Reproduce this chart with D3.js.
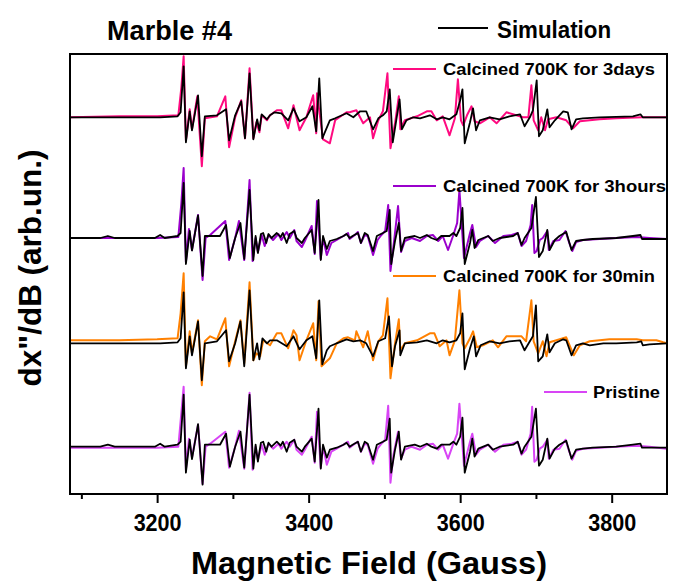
<!DOCTYPE html>
<head>
<meta charset="utf-8">
<style>
  body { margin: 0; background: #fff; }
  text { font-family: "Liberation Sans", Arial, sans-serif; font-weight: bold; fill: #000; }
</style>
<script src="https://cdn.jsdelivr.net/npm/d3@7"></script>
</head>
<body>
<script>
// field (Gauss), signal (arb. un., relative to each trace's baseline)
var sim1 = [[3085,0],[3204,0],[3227,0.01],[3231,0.05],[3235,0.51],[3238,-0.25],[3243,0.06],[3246,-0.13],[3254,0.22],[3259,-0.39],[3263,0.01],[3279,0.02],[3291,0.08],[3295,-0.23],[3303,0.02],[3311,0.16],[3316,-0.21],[3322,0.44],[3327,-0.22],[3332,-0.02],[3335,-0.13],[3338,0.03],[3345,-0.02],[3349,0.02],[3355,0.05],[3364,0.04],[3373,-0.03],[3380,0.09],[3388,-0.04],[3397,0],[3405,0.11],[3410,-0.14],[3414,0.39],[3418,-0.21],[3428,-0.03],[3435,-0.01],[3450,0.04],[3459,0],[3468,0.06],[3476,0.06],[3485,-0.12],[3492,-0.01],[3498,0.02],[3503,0.06],[3507,0.28],[3511,-0.25],[3515,-0.06],[3520,0.18],[3523,-0.12],[3529,-0.03],[3538,0],[3547,-0.01],[3560,0.02],[3569,-0.02],[3577,0],[3586,-0.02],[3595,0.03],[3600,0.17],[3603,0.28],[3606,-0.26],[3613,-0.05],[3617,0.09],[3621,-0.13],[3626,-0.03],[3639,0],[3652,-0.02],[3665,0.01],[3679,0.03],[3685,-0.09],[3692,0],[3696,0.07],[3701,0.37],[3704,-0.19],[3709,-0.13],[3715,0.08],[3718,-0.10],[3725,-0.03],[3736,0.06],[3742,0.05],[3747,-0.12],[3753,-0.02],[3762,-0.01],[3784,0],[3828,0.01],[3838,0.03],[3841,0],[3873,0]];

var days3 = [[3085,0],[3150,0.01],[3200,0.01],[3228,0.02],[3232,0.3],[3235,0.61],[3238,-0.23],[3243,0.08],[3246,-0.12],[3253,0.21],[3259,-0.49],[3263,-0.01],[3279,0.01],[3290,0.21],[3295,-0.30],[3303,0],[3311,0.17],[3316,-0.21],[3322,0.49],[3327,-0.21],[3331,-0.05],[3335,-0.15],[3338,0.02],[3345,-0.03],[3349,0.02],[3358,0.07],[3364,0.07],[3373,-0.11],[3380,0.12],[3388,-0.13],[3397,0],[3406,0.22],[3410,-0.16],[3411,0.24],[3419,-0.22],[3428,-0.26],[3435,-0.03],[3450,0.05],[3454,0.05],[3463,0.07],[3472,-0.06],[3481,0],[3485,-0.21],[3492,-0.03],[3498,0.06],[3504,0.44],[3508,-0.31],[3514,-0.06],[3519,0.21],[3521,-0.12],[3527,-0.03],[3543,0.01],[3556,0.06],[3562,0.06],[3569,-0.03],[3577,0.01],[3586,-0.18],[3593,-0.01],[3597,0.38],[3601,-0.03],[3604,-0.08],[3609,0.02],[3615,0.11],[3619,-0.04],[3626,-0.06],[3639,0],[3648,-0.06],[3661,0.05],[3674,0.02],[3683,0],[3690,0],[3694,0.32],[3697,-0.03],[3703,-0.13],[3707,0],[3712,-0.13],[3716,-0.02],[3727,0],[3740,-0.03],[3749,-0.11],[3758,-0.04],[3771,-0.03],[3784,-0.02],[3806,-0.01],[3840,0],[3873,0]];

var sim2 = [[3085,0],[3125,0],[3135,0.02],[3144,0],[3197,0],[3204,0.03],[3210,0],[3227,0.02],[3231,0.05],[3235,0.55],[3238,-0.26],[3243,0.07],[3246,-0.125],[3254,0.225],[3260,-0.38],[3263,0.02],[3283,0.02],[3291,0.13],[3296,-0.20],[3303,0],[3310,0.15],[3315,-0.21],[3322,0.48],[3327,-0.22],[3330,0.02],[3333,-0.15],[3337,0.04],[3340,0.05],[3344,-0.05],[3347,0.04],[3351,0],[3358,0.05],[3363,0.01],[3366,0.05],[3371,-0.05],[3375,0.04],[3381,0.07],[3384,0],[3391,-0.05],[3395,0],[3404,0.08],[3408,-0.15],[3413,0.38],[3416,-0.22],[3419,0.02],[3424,-0.11],[3428,-0.03],[3437,-0.01],[3446,0.02],[3450,0.04],[3454,0],[3458,0.02],[3465,0.05],[3469,-0.05],[3474,0.05],[3478,0.03],[3485,-0.13],[3490,0.02],[3498,0.05],[3503,0.07],[3507,0.28],[3509,-0.26],[3514,-0.03],[3519,0.15],[3522,-0.13],[3527,0],[3540,0.02],[3547,0],[3556,0.03],[3562,0],[3569,-0.02],[3575,0.02],[3586,0.02],[3591,0.05],[3595,0.02],[3600,0.10],[3603,0.30],[3606,-0.26],[3613,-0.05],[3616,0.08],[3619,-0.10],[3624,-0.02],[3637,0.02],[3643,-0.03],[3652,0],[3670,0.02],[3676,0.05],[3681,-0.07],[3685,0],[3694,0.10],[3700,0.41],[3704,-0.19],[3709,-0.13],[3715,0.08],[3718,-0.12],[3725,-0.02],[3731,0.02],[3740,0.06],[3747,-0.12],[3753,-0.03],[3762,-0.02],[3775,-0.01],[3806,0],[3828,0.02],[3838,0.03],[3840,-0.01],[3873,-0.01]];

var hours3 = [[3085,0],[3150,0],[3200,0],[3228,0.01],[3232,0.35],[3235,0.70],[3238,-0.24],[3242,0.09],[3246,-0.12],[3254,0.23],[3260,-0.42],[3264,0],[3270,0.03],[3290,0.17],[3295,-0.22],[3303,0],[3308,0.17],[3315,-0.22],[3322,0.58],[3326,-0.23],[3330,0],[3333,-0.14],[3338,0.03],[3342,-0.08],[3347,0.03],[3353,-0.02],[3360,0.04],[3364,-0.02],[3371,0.06],[3375,0],[3381,0.08],[3384,-0.03],[3391,-0.09],[3395,-0.03],[3404,0.12],[3408,-0.16],[3411,0.37],[3416,-0.21],[3419,0],[3424,-0.17],[3430,-0.05],[3437,-0.02],[3446,0.02],[3452,0.05],[3454,-0.01],[3461,0.03],[3465,0.06],[3469,-0.05],[3474,0.03],[3478,0.02],[3485,-0.17],[3491,-0.02],[3496,0.03],[3501,0.07],[3505,0.33],[3508,-0.33],[3512,-0.08],[3518,0.32],[3522,-0.14],[3527,-0.03],[3536,0],[3547,-0.03],[3556,0.02],[3564,0.03],[3571,-0.03],[3577,0.02],[3584,-0.12],[3591,0.03],[3596,0.15],[3599,0.48],[3605,-0.20],[3613,0.05],[3616,0.13],[3621,-0.09],[3626,-0.03],[3637,0.02],[3646,-0.05],[3657,0.02],[3668,0.03],[3676,0.05],[3681,-0.08],[3687,-0.03],[3693,0.13],[3695,0.33],[3698,-0.15],[3701,-0.13],[3705,-0.02],[3709,0],[3715,0.07],[3717,-0.12],[3723,-0.03],[3731,-0.02],[3739,0.07],[3744,-0.05],[3748,-0.13],[3753,-0.04],[3762,-0.02],[3784,-0.01],[3806,0],[3833,0.01],[3850,0],[3873,-0.01]];

var sim3 = [[3085,0],[3204,0],[3227,0.01],[3231,0.05],[3235,0.51],[3238,-0.25],[3243,0.07],[3246,-0.12],[3254,0.22],[3259,-0.37],[3263,0],[3279,0.02],[3291,0.13],[3295,-0.18],[3303,0],[3310,0.22],[3315,-0.23],[3322,0.53],[3327,-0.17],[3332,0],[3335,-0.16],[3339,0.05],[3345,0],[3349,0.03],[3358,0.03],[3371,-0.03],[3380,0.07],[3388,-0.06],[3397,0.03],[3405,0.07],[3410,-0.15],[3414,0.43],[3418,-0.21],[3424,-0.07],[3428,-0.03],[3437,0],[3450,0.04],[3459,0.02],[3468,0.03],[3476,0],[3485,-0.13],[3492,0.02],[3501,0.05],[3506,0.27],[3510,-0.23],[3514,-0.03],[3520,0.13],[3521,-0.12],[3527,0],[3543,0.01],[3556,0.03],[3569,0],[3577,0.03],[3586,0.01],[3595,0.03],[3600,0.10],[3603,0.30],[3606,-0.26],[3613,-0.05],[3618,0.07],[3621,-0.13],[3627,-0.02],[3639,0.02],[3652,0],[3665,0.02],[3679,0.03],[3685,-0.07],[3692,0.02],[3696,0.07],[3700,0.38],[3703,-0.18],[3709,-0.13],[3715,0.09],[3718,-0.09],[3725,0],[3736,0.04],[3740,0.03],[3747,-0.12],[3753,-0.02],[3762,0],[3771,-0.02],[3789,0],[3806,0],[3833,0.01],[3839,0.02],[3841,-0.02],[3850,-0.01],[3873,0]];

var min30 = [[3085,0.03],[3150,0.03],[3200,0.04],[3227,0.05],[3231,0.3],[3235,0.70],[3238,-0.23],[3243,0.12],[3246,-0.10],[3254,0.23],[3259,-0.42],[3263,0.02],[3270,0.07],[3279,0.04],[3290,0.25],[3295,-0.23],[3303,0.02],[3310,0.23],[3315,-0.20],[3322,0.61],[3327,-0.17],[3331,-0.10],[3336,-0.13],[3340,0.03],[3349,-0.02],[3358,0.10],[3364,0.10],[3373,-0.05],[3380,0.13],[3384,0.08],[3388,-0.17],[3397,0.03],[3406,0.20],[3410,-0.17],[3413,0.42],[3417,-0.23],[3428,-0.15],[3437,0],[3446,0.05],[3452,0.06],[3461,0.03],[3463,0.12],[3472,-0.04],[3478,0.12],[3485,-0.17],[3492,0.02],[3498,0.08],[3504,0.45],[3508,-0.35],[3514,0],[3519,0.24],[3521,-0.07],[3527,0],[3543,0.03],[3560,0.10],[3566,0.10],[3573,-0.03],[3582,0.03],[3586,-0.12],[3593,0.03],[3599,0.53],[3603,0],[3606,-0.05],[3613,0.05],[3617,0.12],[3622,-0.04],[3630,-0.02],[3643,0.03],[3650,-0.04],[3661,0.07],[3674,0.07],[3681,0.07],[3687,0.02],[3694,0.43],[3697,0.02],[3703,-0.10],[3709,0.02],[3714,-0.13],[3718,0.01],[3727,0.03],[3740,0.06],[3750,-0.12],[3758,-0.02],[3771,0.02],[3797,0.04],[3833,0.04],[3841,0.03],[3859,0.03],[3868,0.01],[3873,0]];

var sim4 = [[3085,0],[3125,0],[3135,0.02],[3144,0],[3197,0],[3204,0.03],[3210,0],[3227,0.02],[3231,0.05],[3235,0.52],[3238,-0.26],[3243,0.07],[3246,-0.125],[3254,0.225],[3260,-0.38],[3263,0.02],[3283,0.02],[3291,0.13],[3296,-0.20],[3303,0],[3310,0.15],[3315,-0.21],[3322,0.52],[3327,-0.22],[3330,0.02],[3333,-0.15],[3337,0.04],[3340,0.05],[3344,-0.05],[3347,0.04],[3351,0],[3358,0.05],[3363,0.01],[3366,0.05],[3371,-0.05],[3375,0.04],[3381,0.07],[3384,0],[3391,-0.05],[3395,0],[3404,0.08],[3408,-0.15],[3413,0.38],[3416,-0.22],[3419,0.02],[3424,-0.11],[3428,-0.03],[3437,-0.01],[3446,0.02],[3450,0.04],[3454,0],[3458,0.02],[3465,0.05],[3469,-0.05],[3474,0.05],[3478,0.03],[3485,-0.13],[3490,0.02],[3498,0.05],[3503,0.07],[3507,0.28],[3509,-0.26],[3514,-0.03],[3519,0.15],[3522,-0.13],[3527,0],[3540,0.02],[3547,0],[3556,0.03],[3562,0],[3569,-0.02],[3575,0.02],[3586,0.02],[3591,0.05],[3595,0.02],[3600,0.10],[3603,0.29],[3606,-0.26],[3613,-0.05],[3616,0.08],[3619,-0.10],[3624,-0.02],[3637,0.02],[3643,-0.03],[3652,0],[3670,0.02],[3676,0.05],[3681,-0.07],[3685,0],[3694,0.10],[3700,0.38],[3704,-0.19],[3709,-0.13],[3715,0.08],[3718,-0.12],[3725,-0.02],[3731,0.02],[3740,0.06],[3747,-0.12],[3753,-0.03],[3762,-0.02],[3775,-0.01],[3806,0],[3828,0.02],[3838,0.03],[3840,-0.01],[3873,-0.01]];

var pristine = [[3085,-0.01],[3150,-0.01],[3200,-0.01],[3228,0],[3232,0.34],[3235,0.60],[3238,-0.23],[3242,0.08],[3246,-0.11],[3254,0.22],[3260,-0.37],[3264,0],[3270,0.03],[3290,0.15],[3295,-0.21],[3303,0],[3308,0.16],[3315,-0.22],[3322,0.54],[3326,-0.23],[3330,0],[3333,-0.13],[3338,0.02],[3342,-0.08],[3347,0.03],[3353,-0.02],[3360,0.03],[3364,-0.02],[3371,0.05],[3375,0],[3381,0.07],[3384,-0.03],[3391,-0.08],[3395,-0.03],[3404,0.10],[3408,-0.16],[3411,0.35],[3416,-0.21],[3419,0],[3424,-0.18],[3430,-0.05],[3437,-0.02],[3446,0.02],[3452,0.05],[3454,-0.01],[3461,0.03],[3465,0.05],[3469,-0.05],[3474,0.03],[3478,0.02],[3485,-0.17],[3491,-0.02],[3496,0.03],[3501,0.07],[3505,0.41],[3508,-0.36],[3512,-0.08],[3518,0.15],[3522,-0.12],[3527,-0.03],[3536,0],[3547,-0.03],[3556,0.02],[3564,0.03],[3571,-0.03],[3577,0.02],[3584,-0.12],[3591,0.03],[3596,0.13],[3599,0.43],[3605,-0.19],[3613,0.05],[3616,0.13],[3621,-0.08],[3626,-0.03],[3637,0.02],[3646,-0.05],[3657,0.02],[3668,0.03],[3676,0.05],[3681,-0.08],[3687,-0.03],[3693,0.13],[3695,0.40],[3698,-0.15],[3701,-0.13],[3705,-0.02],[3709,0],[3715,0.07],[3717,-0.12],[3723,-0.03],[3731,-0.02],[3739,0.07],[3744,-0.05],[3748,-0.13],[3753,-0.04],[3762,-0.02],[3784,-0.01],[3806,0],[3833,0.01],[3850,0],[3872,-0.02]];

var labels = ["Calcined 700K for 3days", "Calcined 700K for 3hours", "Calcined 700K for 30min", "Pristine"];
var colors = ["#ff0a80", "#9a00cc", "#ff8000", "#d845f5"];
var offsets = [3.767, 2.56, 1.507, 0.473];   // stacking offsets
var measured = [days3, hours3, min30, pristine];
var simulated = [sim1, sim2, sim3, sim4];
var majorTicks = [3200, 3400, 3600, 3800];
var minorTicks = [3100, 3300, 3500, 3700];

(function() {
  var w = 673, h = 583;
  var m = {left: 70, right: 667, top: 54, bottom: 494};

  var svg = d3.select("body").append("svg").attr("width", w).attr("height", h);

  var x = d3.scaleLinear().domain([3085, 3873]).range([m.left, m.right]);
  var y = d3.scaleLinear().domain([0, 4.40]).range([m.bottom, m.top]);

  svg.append("clipPath").attr("id", "clip")
     .append("rect").attr("x", m.left).attr("y", m.top)
     .attr("width", m.right - m.left).attr("height", m.bottom - m.top);

  var plot = svg.append("g").attr("clip-path", "url(#clip)");

  measured.forEach(function(data, i) {
    var line = d3.line()
      .x(function(d) { return x(d[0]); })
      .y(function(d) { return y(offsets[i] + d[1]); });
    plot.append("path").datum(data)
      .attr("d", line).attr("fill", "none")
      .attr("stroke", colors[i]).attr("stroke-width", 2)
      .attr("stroke-linejoin", "round");
    plot.append("path").datum(simulated[i])
      .attr("d", line).attr("fill", "none")
      .attr("stroke", "#000").attr("stroke-width", 1.8)
      .attr("stroke-linejoin", "round");
  });

  // frame
  svg.append("rect").attr("x", m.left).attr("y", m.top)
     .attr("width", m.right - m.left).attr("height", m.bottom - m.top)
     .attr("fill", "none").attr("stroke", "#000").attr("stroke-width", 2);

  // bottom axis
  var axis = svg.append("g").attr("transform", "translate(0," + m.bottom + ")")
    .call(d3.axisBottom(x).tickValues(majorTicks).tickSize(9).tickPadding(7).tickFormat(d3.format("d")));
  axis.select(".domain").remove();
  axis.selectAll(".tick line").attr("stroke-width", 2);
  axis.selectAll(".tick text").attr("font-size", 23).attr("textLength", 48)
    .attr("lengthAdjust", "spacingAndGlyphs").attr("dy", "0.9em")
    .attr("font-family", "Liberation Sans, Arial, sans-serif").attr("font-weight", "bold");

  var minor = svg.append("g").attr("transform", "translate(0," + m.bottom + ")")
    .call(d3.axisBottom(x).tickValues(minorTicks).tickSize(5).tickFormat(""));
  minor.select(".domain").remove();
  minor.selectAll(".tick line").attr("stroke-width", 2);

  // titles
  svg.append("text").attr("x", 107).attr("y", 40).attr("font-size", 28)
     .attr("textLength", 125).attr("lengthAdjust", "spacingAndGlyphs").text("Marble #4");

  svg.append("text").attr("x", 369).attr("y", 574).attr("text-anchor", "middle")
     .attr("font-size", 31).attr("textLength", 356).attr("lengthAdjust", "spacingAndGlyphs")
     .text("Magnetic Field (Gauss)");

  svg.append("text").attr("transform", "translate(41,268) rotate(-90)")
     .attr("text-anchor", "middle").attr("font-size", 31)
     .attr("textLength", 237).attr("lengthAdjust", "spacingAndGlyphs")
     .text("dx\"/dB (arb.un.)");

  // legend
  svg.append("line").attr("x1", 438).attr("x2", 488).attr("y1", 28).attr("y2", 28)
     .attr("stroke", "#000").attr("stroke-width", 2);
  svg.append("text").attr("x", 497).attr("y", 38).attr("font-size", 24)
     .attr("textLength", 114).attr("lengthAdjust", "spacingAndGlyphs").text("Simulation");

  var legendPos = [
    {lx: 393, ly: 69, tx: 443, ty: 75, len: 212},
    {lx: 393, ly: 186, tx: 443, ty: 192, len: 223},
    {lx: 393, ly: 276, tx: 443, ty: 282, len: 212},
    {lx: 544, ly: 392, tx: 593, ty: 398, len: 67}
  ];
  legendPos.forEach(function(p, i) {
    svg.append("line").attr("x1", p.lx).attr("x2", p.lx + 43).attr("y1", p.ly).attr("y2", p.ly)
       .attr("stroke", colors[i]).attr("stroke-width", 2);
    svg.append("text").attr("x", p.tx).attr("y", p.ty).attr("font-size", 17)
       .attr("textLength", p.len).attr("lengthAdjust", "spacingAndGlyphs").text(labels[i]);
  });
})();
</script>
</body>
